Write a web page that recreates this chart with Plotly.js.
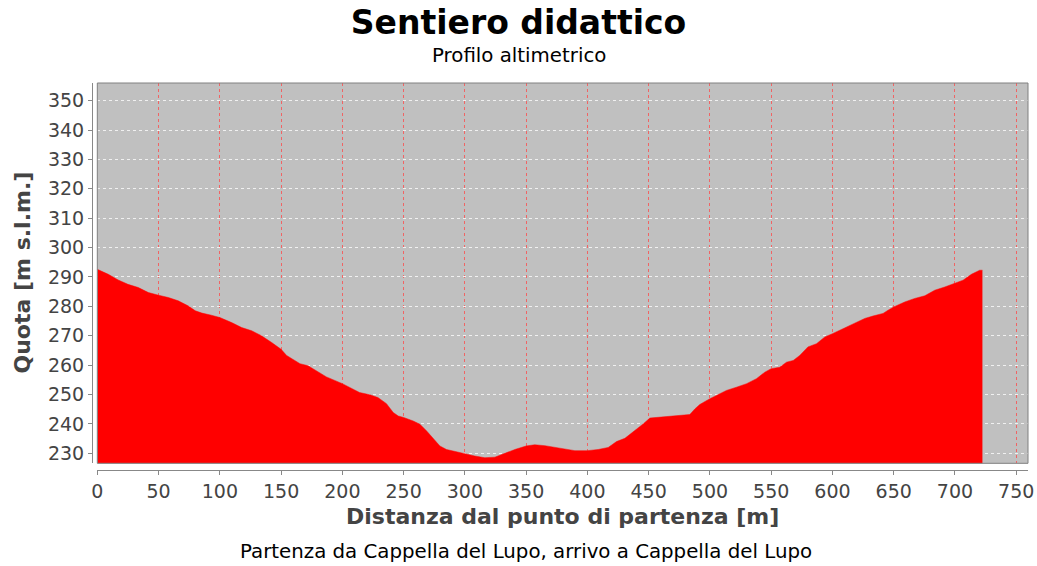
<!DOCTYPE html>
<html>
<head>
<meta charset="utf-8">
<script src="https://cdn.plot.ly/plotly-3.0.1.min.js"></script>
<style>
html,body{margin:0;padding:0;background:#fff;}
#chart{width:1037px;height:566px;}
</style>
</head>
<body>
<div id="chart"></div>
<script>
// Distance from start [m]
const distanza = [
  0, 9, 17, 25, 33.5, 41.7, 50, 58, 66, 74,
  80, 85.4, 93, 100, 109.6, 117.8, 126, 134, 142.3, 150,
  154.5, 160, 165.4, 172, 179, 187, 200, 206, 214, 222.5,
  229, 236, 241.5, 245.6, 250, 257.8, 263.3, 268.8, 274, 279.6,
  285, 293, 300, 308, 316.3, 324.5, 332.7, 340.8, 350, 357,
  365.3, 373.4, 381.6, 389.8, 400, 408.8, 417, 423.8, 430.6, 438.7,
  445.5, 451, 467, 483.6, 487.7, 491.7, 500, 505.4, 513.5, 521.7,
  530, 538, 544.8, 550, 557, 562.5, 568, 573.3, 580, 587,
  593.8, 600, 606, 610, 618, 626.4, 633, 641.3, 645.4, 650,
  659, 667.2, 675.4, 683.5, 691.7, 700, 706.6, 713.4, 720.2, 722.4
];
// Elevation [m s.l.m.]
const quota = [
  292.6, 290.9, 289, 287.5, 286.4, 284.7, 283.8, 283, 281.9, 280.2,
  278.5, 277.7, 277, 276.2, 274.5, 272.8, 271.7, 270, 267.7, 265.4,
  263.3, 262, 260.5, 259.8, 258, 256, 253.7, 252.4, 250.7, 249.9,
  249, 246.9, 243.9, 242.7, 242.2, 241, 239.9, 237.6, 235.3, 232.5,
  231.3, 230.5, 230, 229.1, 228.5, 228.7, 230, 231.3, 232.5, 232.9,
  232.6, 232, 231.5, 230.9, 230.9, 231.3, 232, 234, 235.1, 237.7,
  240, 242, 242.5, 243.2, 245.1, 246.6, 248.6, 249.7, 251.4, 252.5,
  253.7, 255.4, 257.6, 258.8, 259.3, 261, 261.6, 263.3, 266.2, 267.3,
  269.6, 270.7, 271.9, 272.6, 274.4, 275.9, 276.7, 277.6, 278.7, 279.8,
  281.5, 282.7, 283.6, 285.5, 286.6, 287.8, 288.9, 290.9, 292.3, 292.3
];

const titolo = 'Sentiero didattico';
const sottotitolo = 'Profilo altimetrico';
const nota = 'Partenza da Cappella del Lupo, arrivo a Cappella del Lupo';
const titoloX = 'Distanza dal punto di partenza [m]';
const titoloY = 'Quota [m s.l.m.]';

const FONT = 'DejaVu Sans, Verdana, sans-serif';
const ML = 92, MR = 9, MT = 83, MB = 96, W = 1037, H = 566;
const PW = W - ML - MR, PH = H - MT - MB;
const px = x => (x - ML) / PW;
const py = y => (H - MB - y) / PH;

const trace = {
  x: distanza, y: quota, type: 'scatter', mode: 'lines',
  fill: 'tozeroy', fillcolor: '#ff0000',
  line: {color: '#ff0000', width: 0.5},
  hoverinfo: 'x+y'
};

const layout = {
  width: W, height: H,
  margin: {l: ML, r: MR, t: MT, b: MB, pad: 0},
  paper_bgcolor: '#ffffff',
  plot_bgcolor: '#c0c0c0',
  showlegend: false,
  title: {
    text: titolo, xref: 'container', x: 0.5, xanchor: 'center',
    yref: 'container', y: 1 - 22 / H, yanchor: 'middle',
    font: {family: FONT, size: 33, weight: 'bold', color: '#000000'}
  },
  xaxis: {
    domain: [px(97.3), 1], anchor: 'free', position: 0,
    range: [0, 759.6], dtick: 50, tick0: 0,
    showgrid: true, gridcolor: 'rgb(240,100,100)', gridwidth: 1, griddash: '3px,3px',
    zeroline: false,
    showline: true, linecolor: '#888888', linewidth: 1,
    ticks: 'outside', ticklen: 4, tickcolor: '#888888',
    tickfont: {family: FONT, size: 19, color: '#444444'},
    fixedrange: true
  },
  yaxis: {
    domain: [py(463.3), 1], anchor: 'free', position: 0,
    range: [226.6, 356], dtick: 10, tick0: 0,
    showgrid: true, gridcolor: '#f0f0f0', gridwidth: 1, griddash: '3px,3px',
    zeroline: false,
    showline: true, linecolor: '#888888', linewidth: 1,
    ticks: 'outside', ticklen: 4, tickcolor: '#888888',
    tickfont: {family: FONT, size: 19, color: '#444444'},
    fixedrange: true
  },
  shapes: [{
    type: 'rect', xref: 'x domain', yref: 'y domain', x0: 0, x1: 1, y0: 0, y1: 1,
    line: {color: '#808080', width: 1}, fillcolor: 'rgba(0,0,0,0)', layer: 'above'
  }],
  annotations: [
    {text: sottotitolo, xref: 'paper', yref: 'paper', x: px(519), y: py(55),
     xanchor: 'center', yanchor: 'middle', showarrow: false,
     font: {family: FONT, size: 19.8, color: '#000000'}},
    {text: nota, xref: 'paper', yref: 'paper', x: px(525.5), y: py(551),
     xanchor: 'center', yanchor: 'middle', showarrow: false,
     font: {family: FONT, size: 19.8, color: '#000000'}},
    {text: titoloX, xref: 'paper', yref: 'paper', x: px(562.5), y: py(516),
     xanchor: 'center', yanchor: 'middle', showarrow: false,
     font: {family: FONT, size: 22, weight: 'bold', color: '#444444'}},
    {text: titoloY, xref: 'paper', yref: 'paper', x: px(22), y: py(272.5),
     xanchor: 'center', yanchor: 'middle', showarrow: false, textangle: -90,
     font: {family: FONT, size: 22, weight: 'bold', color: '#444444'}}
  ]
};

Plotly.newPlot('chart', [trace], layout, {displayModeBar: false, staticPlot: true});
</script>
</body>
</html>
